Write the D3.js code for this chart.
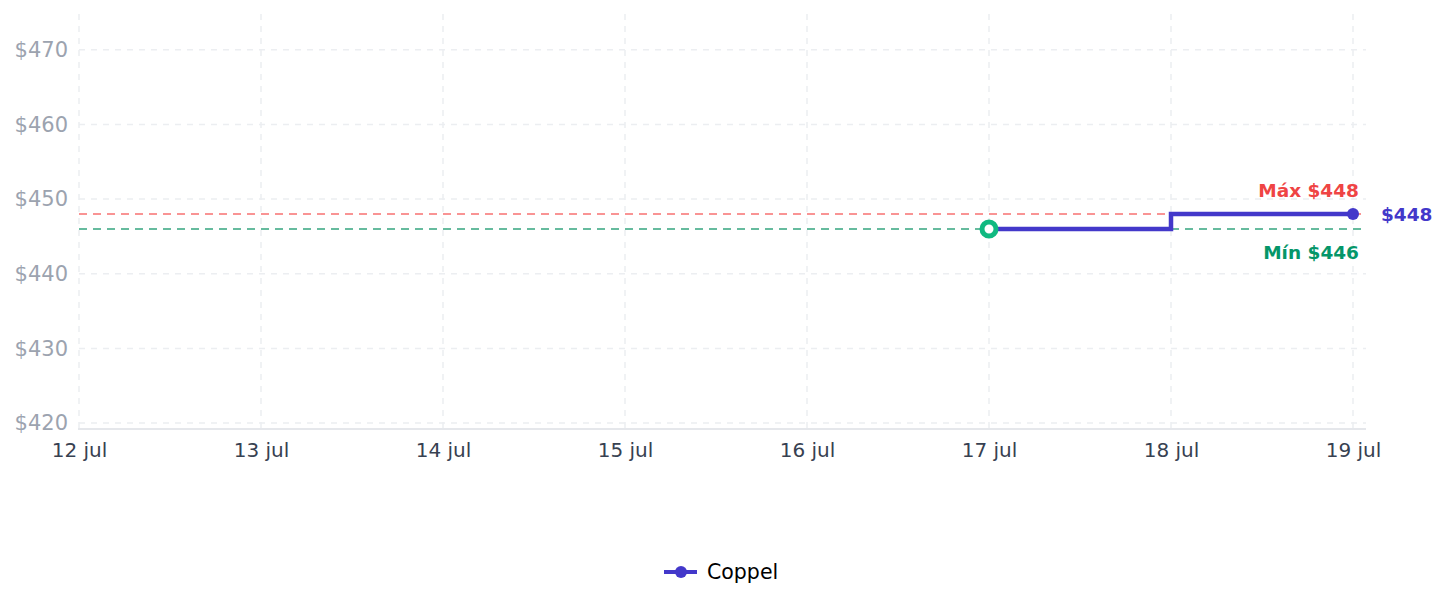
<!DOCTYPE html>
<html>
<head>
<meta charset="utf-8">
<script src="https://cdn.jsdelivr.net/npm/d3@7"></script>
<style>
  body { margin: 0; background: #fff; font-family: "DejaVu Sans", sans-serif; }
</style>
</head>
<body>
<svg id="drawing_region"></svg>
<script>
// data
const dayLabels = ["12 jul", "13 jul", "14 jul", "15 jul", "16 jul", "17 jul", "18 jul", "19 jul"];
const seriesDays = [5, 6, 7];          // index into dayLabels
const seriesPrices = [446, 448, 448];
const seriesName = "Coppel";
const yTicks = [420, 430, 440, 450, 460, 470];
const maxPrice = 448;
const minPrice = 446;

const config = {
    width: 1447,
    height: 607,
    left: 79, right: 1366, top: 14, bottom: 429
};

const svg = d3.select('#drawing_region')
    .attr('width', config.width)
    .attr('height', config.height);

const xscale = d3.scaleLinear()
    .domain([0, dayLabels.length - 1])
    .range([config.left, 1353]);

const yscale = d3.scaleLinear()
    .domain([419.2, 474.8])
    .range([config.bottom, config.top]);

// grid
const grid = svg.append('g');
grid.selectAll('line.h')
    .data(yTicks)
    .enter().append('line')
    .attr('x1', config.left).attr('x2', config.right)
    .attr('y1', d => yscale(d)).attr('y2', d => yscale(d))
    .attr('stroke', '#eceef1').attr('stroke-width', 1.5)
    .attr('stroke-dasharray', '6,6');
grid.selectAll('line.v')
    .data(dayLabels.map((d, i) => i))
    .enter().append('line')
    .attr('x1', d => xscale(d)).attr('x2', d => xscale(d))
    .attr('y1', config.top).attr('y2', config.bottom)
    .attr('stroke', '#eceef1').attr('stroke-width', 1.5)
    .attr('stroke-dasharray', '6,6');

// axes
const xaxis = d3.axisBottom(xscale)
    .tickValues(dayLabels.map((d, i) => i))
    .tickFormat(i => dayLabels[i])
    .tickSize(0).tickPadding(14);
const xg = svg.append('g')
    .attr('transform', `translate(0, ${config.bottom})`)
    .call(xaxis);
xg.select('.domain').attr('d', `M${config.left - 1},0H${config.right}`)
    .attr('stroke', '#e5e7eb').attr('stroke-width', 2);
xg.selectAll('text')
    .attr('fill', '#374151').attr('font-size', '20px')
    .attr('font-family', '"DejaVu Sans", sans-serif');

const yaxis = d3.axisLeft(yscale)
    .tickValues(yTicks)
    .tickFormat(d => '$' + d)
    .tickSize(0).tickPadding(11);
const yg = svg.append('g')
    .attr('transform', `translate(${config.left}, 0)`)
    .call(yaxis);
yg.select('.domain').remove();
yg.selectAll('text')
    .attr('fill', '#9ca3af').attr('font-size', '21px')
    .attr('font-family', '"DejaVu Sans", sans-serif');

// max / min reference lines
svg.append('line')
    .attr('x1', config.left).attr('x2', config.right)
    .attr('y1', yscale(maxPrice)).attr('y2', yscale(maxPrice))
    .attr('stroke', '#f87171').attr('stroke-width', 1.5)
    .attr('stroke-dasharray', '8,6');
svg.append('line')
    .attr('x1', config.left).attr('x2', config.right)
    .attr('y1', yscale(minPrice)).attr('y2', yscale(minPrice))
    .attr('stroke', '#34a57f').attr('stroke-width', 1.5)
    .attr('stroke-dasharray', '8,6');

svg.append('text')
    .attr('x', 1359).attr('y', yscale(maxPrice) - 17)
    .attr('text-anchor', 'end')
    .attr('fill', '#ef4444').attr('font-size', '18.5px').attr('font-weight', 'bold')
    .text('Máx $' + maxPrice);
svg.append('text')
    .attr('x', 1359).attr('y', yscale(minPrice) + 30)
    .attr('text-anchor', 'end')
    .attr('fill', '#059669').attr('font-size', '18.5px').attr('font-weight', 'bold')
    .text('Mín $' + minPrice);

// series
const points = seriesDays.map((d, i) => ({ x: d, y: seriesPrices[i] }));
const line = d3.line()
    .x(d => xscale(d.x))
    .y(d => yscale(d.y))
    .curve(d3.curveStepAfter);
svg.append('path')
    .datum(points)
    .attr('fill', 'none')
    .attr('stroke', '#4338ca')
    .attr('stroke-width', 4.5)
    .attr('d', line);

const first = points[0];
const last = points[points.length - 1];
svg.append('circle')
    .attr('cx', xscale(first.x)).attr('cy', yscale(first.y))
    .attr('r', 7)
    .attr('fill', '#fff').attr('stroke', '#10b981').attr('stroke-width', 5);
svg.append('circle')
    .attr('cx', xscale(last.x)).attr('cy', yscale(last.y))
    .attr('r', 6)
    .attr('fill', '#4338ca');
svg.append('text')
    .attr('x', xscale(last.x) + 28).attr('y', yscale(last.y) + 6.5)
    .attr('fill', '#4338ca').attr('font-size', '18.5px').attr('font-weight', 'bold')
    .text('$' + last.y);

// legend
const legend = svg.append('g').attr('transform', 'translate(664, 572)');
legend.append('line')
    .attr('x1', 0).attr('x2', 33)
    .attr('stroke', '#4338ca').attr('stroke-width', 4);
legend.append('circle')
    .attr('cx', 17).attr('r', 6).attr('fill', '#4338ca');
legend.append('text')
    .attr('x', 43).attr('y', 7)
    .attr('fill', '#000').attr('font-size', '20.5px')
    .text(seriesName);
</script>
</body>
</html>
